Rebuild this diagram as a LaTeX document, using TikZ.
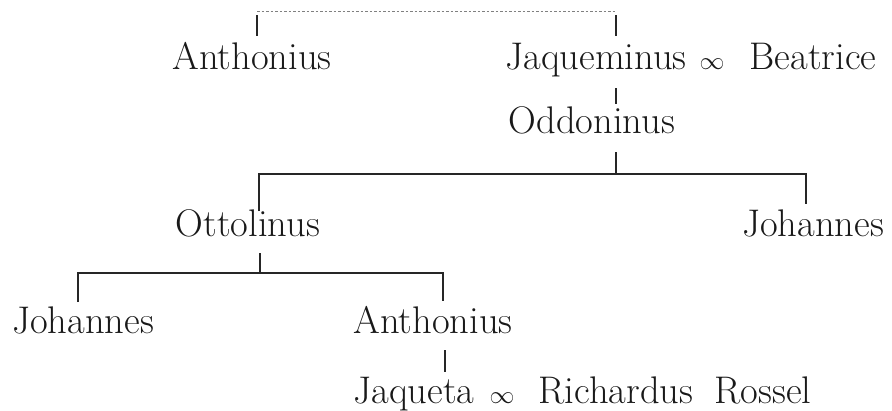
\documentclass[tikz,border=0pt]{standalone}
\begin{document}
\begin{tikzpicture}[x=1pt,y=-1pt,
  person/.style={inner sep=0pt, anchor=base, font=\fontsize{38.5}{42}\selectfont, text=black!90},
  link/.style={line width=1.3pt, draw=black!85, line join=miter},
  dotlink/.style={line width=0.8pt, draw=black!50, dash pattern=on 2.5pt off 2pt}]
\useasboundingbox (0,0) rectangle (892,410);
% names
\node[person] (anth1) at (252,69) {Anthonius};
\node[person] (jaq) at (596,69) {Jaqueminus};
\node[person] (m1) at (712,69) {$\infty$};
\node[person] (beat) at (813,69) {Beatrice};
\node[person] (odd) at (592,133) {Oddoninus};
\node[person] (otto) at (248,236) {Ottolinus};
\node[person] (joh1) at (813,236) {Johannes};
\node[person] (joh2) at (83,333) {Johannes};
\node[person] (anth2) at (433,333) {Anthonius};
\node[person] (jaqta) at (414,403) {Jaqueta};
\node[person] (m2) at (502,403) {$\infty$};
\node[person] (rich) at (616,403) {Richardus};
\node[person] (ross) at (763,403) {Rossel};
% junction coordinates
\coordinate (dA) at (257,11);
\coordinate (dJ) at (616,11);
\coordinate (tA1) at (257,15);
\coordinate (tA2) at (257,36);
\coordinate (tJ1) at (616,15);
\coordinate (tJ2) at (616,36);
\coordinate (jo1) at (616,88);
\coordinate (jo2) at (616,104);
\coordinate (od1) at (616,152);
\coordinate (od2) at (616,174);
\coordinate (b1l) at (259,174);
\coordinate (b1r) at (806,174);
\coordinate (b1le) at (259,211);
\coordinate (b1re) at (806,204);
\coordinate (ot1) at (260,253);
\coordinate (ot2) at (260,273);
\coordinate (b2l) at (78,273);
\coordinate (b2r) at (443,273);
\coordinate (b2le) at (78,302);
\coordinate (b2re) at (443,301);
\coordinate (an1) at (445,350);
\coordinate (an2) at (445,372);
% connectors
\draw[dotlink] (dA) -- (dJ);
\draw[link] (tA1) -- (tA2);
\draw[link] (tJ1) -- (tJ2);
\draw[link] (jo1) -- (jo2);
\draw[link] (od1) -- (od2);
\draw[link] (b1le) -- (b1l) -- (b1r) -- (b1re);
\draw[link] (ot1) -- (ot2);
\draw[link] (b2le) -- (b2l) -- (b2r) -- (b2re);
\draw[link] (an1) -- (an2);
\end{tikzpicture}
\end{document}
